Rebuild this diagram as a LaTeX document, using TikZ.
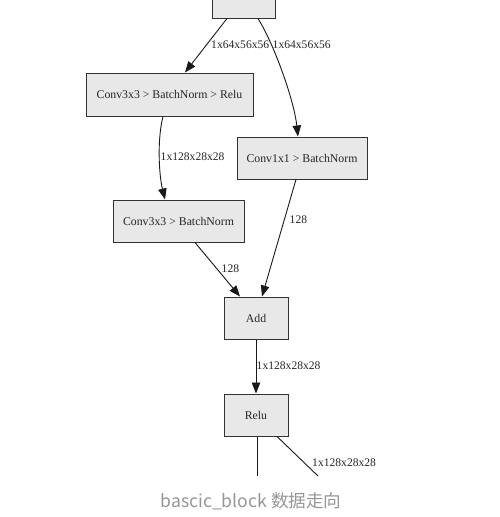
\documentclass[tikz,border=0pt]{standalone}
\usepackage{fontspec}
\setmainfont{Liberation Serif}
\newfontfamily\cjk{Noto Sans CJK SC}
\usetikzlibrary{arrows.meta}
\definecolor{boxfill}{RGB}{232,232,232}
\definecolor{boxline}{RGB}{50,50,50}
\definecolor{captiongray}{RGB}{150,150,150}
\tikzset{
  opbox/.style={draw=boxline, fill=boxfill, line width=1pt, inner sep=0pt,
    font=\fontsize{11.8}{14}\selectfont, text=black!85},
  flow/.style={line width=0.9pt, draw=black!90, -{Triangle[length=11pt,width=8.5pt]}},
  plain/.style={line width=0.9pt, draw=black!90},
  elabel/.style={font=\fontsize{11.6}{14}\selectfont, text=black!85, inner sep=0pt, anchor=west}
}
\begin{document}
\begin{tikzpicture}[x=1pt,y=-1pt]
\useasboundingbox (0,0) rectangle (499,517);
\clip (0,0) rectangle (499,517);
\node[opbox, minimum width=63pt, minimum height=42pt] (top) at (243.5,-3) {};
\node[opbox, minimum width=167pt, minimum height=43pt] (c1) at (169.5,94.5) {Conv3x3 > BatchNorm > Relu};
\node[opbox, minimum width=130pt, minimum height=42pt] (c2) at (302,158) {Conv1x1 > BatchNorm};
\node[opbox, minimum width=131pt, minimum height=42pt] (c3) at (178.5,221) {Conv3x3 > BatchNorm};
\node[opbox, minimum width=64pt, minimum height=42pt] (add) at (256,318) {Add};
\node[opbox, minimum width=64pt, minimum height=42pt] (relu) at (256,415) {Relu};
\coordinate (out1) at (257,476);
\coordinate (out2) at (318,476);

\draw[flow] ([xshift=-16.5pt]top.south) -- ([xshift=15.5pt]c1.north);
\draw[flow] ([xshift=14.5pt]top.south) .. controls (274,44) and (294,100) .. ([xshift=-4pt]c2.north);
\draw[flow] ([xshift=-6.5pt]c1.south) .. controls (157,140) and (159,175) .. ([xshift=-13.5pt]c3.north);
\draw[flow] ([xshift=-6pt]c2.south) -- ([xshift=6pt]add.north);
\draw[flow] ([xshift=16.5pt]c3.south) -- ([xshift=-16pt]add.north);
\draw[flow] (add.south) -- (relu.north);
\draw[plain] ([xshift=1pt]relu.south) -- (out1);
\draw[plain] ([xshift=21pt]relu.south) -- (out2);

\node[elabel] (l1) at (211,45) {1x64x56x56};
\node[elabel] (l2) at (272.5,45) {1x64x56x56};
\node[elabel] (l3) at (160.5,157) {1x128x28x28};
\node[elabel] (l4) at (289.5,220) {128};
\node[elabel] (l5) at (221.5,269) {128};
\node[elabel] (l6) at (256.5,366) {1x128x28x28};
\node[elabel] (l7) at (312,463) {1x128x28x28};

\node[font=\cjk\fontsize{17.6}{20}\selectfont, text=captiongray, inner sep=0pt] (cap) at (251,501) {bascic\_block 数据走向};
\end{tikzpicture}
\end{document}
